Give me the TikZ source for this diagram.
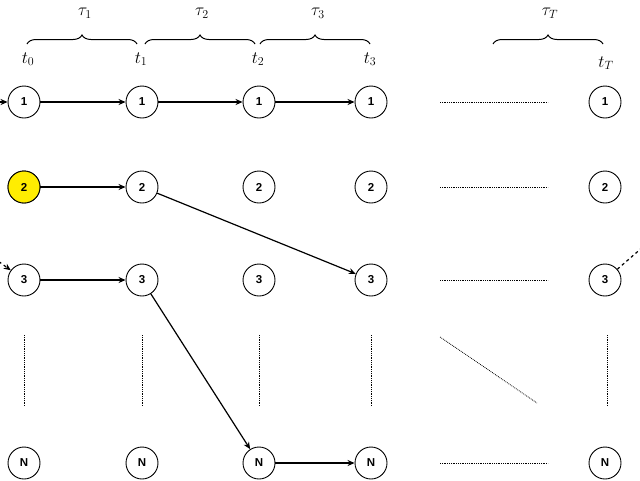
\documentclass[tikz,border=0pt]{standalone}
\usepackage{fontspec}
\newfontfamily\numfont{Liberation Sans}
\usetikzlibrary{arrows.meta,decorations.pathreplacing}
\begin{document}
\begin{tikzpicture}[x=1pt,y=-1pt,
  st/.style={circle,draw,line width=0.9pt,minimum size=32pt,inner sep=0pt,font=\numfont\bfseries\fontsize{11.5}{13}\selectfont},
  arr/.style={-{Stealth[length=7pt,width=6pt]},line width=1.2pt},
  dots/.style={densely dotted,line width=0.8pt},
  br/.style={decorate,decoration={brace,amplitude=9pt},line width=1pt},
  lbl/.style={font=\fontsize{18}{20}\selectfont}]
\useasboundingbox (0,0) rectangle (640,480);
% nodes
\foreach \c/\x in {0/24,1/142,2/259,3/371,T/605}{
  \node[st] (a\c) at (\x,102) {1};
  \node[st] (b\c) at (\x,187) {2};
  \node[st] (c\c) at (\x,280) {3};
  \node[st] (n\c) at (\x,463) {N};
}
\node[st,fill=yellow!95!orange] at (b0) {2};
% time labels
\node[lbl] (t0) at (28,59) {$t_0$};
\node[lbl] (t1) at (141,59) {$t_1$};
\node[lbl] (t2) at (258,59) {$t_2$};
\node[lbl] (t3) at (370,59) {$t_3$};
\node[lbl] (tT) at (606,63) {$t_T$};
% braces
\draw[br] (27,44) -- (137,44);
\draw[br] (145,44) -- (255,44);
\draw[br] (260,44) -- (370,44);
\draw[br] (493,44) -- (603,44);
\node[lbl] (u1) at (85,13) {$\tau_1$};
\node[lbl] (u2) at (202,13) {$\tau_2$};
\node[lbl] (u3) at (318,13) {$\tau_3$};
\node[lbl] (uT) at (550,13) {$\tau_T$};
% arrows
\draw[arr] (a0) -- (a1);
\draw[arr] (a1) -- (a2);
\draw[arr] (a2) -- (a3);
\draw[arr] (b0) -- (b1);
\draw[arr] (b1) -- (c3);
\draw[arr] (c0) -- (c1);
\draw[arr] (c1) -- (n2);
\draw[arr] (n2) -- (n3);
% boundary arrows
\coordinate (l1) at (-4,102);
\draw[arr] (l1) -- (a0);
\coordinate (l3) at (-6,258);
\draw[arr,dashed] (l3) -- (c0);
\coordinate (r3) at (644,246);
\draw[line width=1.2pt,dashed] (cT) -- (r3);
% dotted lines
\coordinate (h1a) at (440,102); \coordinate (h1b) at (548,102);
\coordinate (h2a) at (440,187); \coordinate (h2b) at (548,187);
\coordinate (h3a) at (440,280); \coordinate (h3b) at (548,280);
\coordinate (h4a) at (440,463); \coordinate (h4b) at (548,463);
\draw[dots] (h1a) -- (h1b);
\draw[dots] (h2a) -- (h2b);
\draw[dots] (h3a) -- (h3b);
\draw[dots] (h4a) -- (h4b);
\foreach \x in {24,142,259,371,607}{
  \draw[dots] (\x,335) -- (\x,406);
}
\coordinate (d1) at (440,337); \coordinate (d2) at (537,403);
\draw[dots] (d1) -- (d2);
\end{tikzpicture}
\end{document}
